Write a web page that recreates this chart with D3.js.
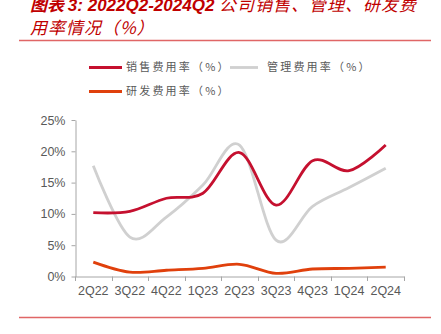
<!DOCTYPE html>
<html>
<head>
<meta charset="utf-8">
<script src="https://cdn.jsdelivr.net/npm/d3@7"></script>
<style>
  html, body { margin: 0; padding: 0; background: #fff; }
  svg { display: block; }
</style>
</head>
<body>
<svg id="chart" width="441" height="334"></svg>
<script>
// Quarters on the x axis
const quarters = ["2Q22", "3Q22", "4Q22", "1Q23", "2Q23", "3Q23", "4Q23", "1Q24", "2Q24"];
// Expense ratios, in %
const sellingRate = [10.2, 10.4, 12.5, 13.3, 19.8, 11.4, 18.5, 16.9, 21.0];
const adminRate   = [17.7, 6.3, 9.5, 14.6, 21.0, 5.8, 11.2, 14.2, 17.3];
const rndRate     = [2.3, 0.7, 1.0, 1.3, 1.95, 0.5, 1.2, 1.3, 1.5];
// Y axis ticks
const yTicks = [0, 5, 10, 15, 20, 25];

const seriesNames = ["销售费用率（%）", "管理费用率（%）", "研发费用率（%）"];
const seriesColors = ["#c5102f", "#d0d0d0", "#e0400c"];
const seriesData = [sellingRate, adminRate, rndRate];

const svg = d3.select("#chart");
const cjk = "'Noto Sans CJK SC', 'Noto Sans', sans-serif";
const latin = "'Liberation Sans', Arial, sans-serif";

// Title (two lines, italic, dark red)
const titleColor = "#c00000";
const title = svg.append("text")
  .attr("font-family", cjk)
  .attr("font-style", "italic")
  .attr("font-size", 17)
  .attr("fill", titleColor);
const l1 = title.append("tspan").attr("x", 30).attr("y", 11);
l1.append("tspan").attr("font-weight", "bold").text("图表 ");
l1.append("tspan").attr("font-weight", "bold").attr("font-family", latin).text("3: 2022Q2-2024Q2 ");
l1.append("tspan").attr("letter-spacing", 1).text("公司销售、管理、研发费");
title.append("tspan").attr("x", 30).attr("y", 34).attr("letter-spacing", 1).text("用率情况（%）");

// Rules above and below the chart
svg.append("line").attr("x1", 19).attr("x2", 431).attr("y1", 40.5).attr("y2", 40.5)
  .attr("stroke", "#e06666").attr("stroke-width", 1.5);
svg.append("line").attr("x1", 19).attr("x2", 431).attr("y1", 317.5).attr("y2", 317.5)
  .attr("stroke", "#e06666").attr("stroke-width", 1.5);

// Scales
const x = d3.scaleBand().domain(quarters).range([75, 404]);
const y = d3.scaleLinear().domain([0, 25]).range([276.5, 120]);
const cx = d => x(d) + x.bandwidth() / 2;

const axisColor = "#a6a6a6";
const labelColor = "#595959";

// Y axis
const yAxis = svg.append("g").attr("transform", "translate(75.5,0)")
  .call(d3.axisLeft(y).tickValues(yTicks).tickSize(4).tickSizeOuter(0).tickFormat(d => d + "%"));
yAxis.select(".domain").attr("stroke", axisColor);
yAxis.selectAll(".tick line").attr("stroke", axisColor);
yAxis.selectAll(".tick text").attr("fill", labelColor).attr("font-family", latin)
  .attr("font-size", 12.5).attr("x", -10);

// X axis with ticks on category boundaries
const xAxis = svg.append("g").attr("transform", "translate(0,276.5)")
  .call(d3.axisBottom(x).tickSize(0).tickSizeOuter(0));
xAxis.select(".domain").attr("stroke", axisColor);
xAxis.selectAll(".tick text").attr("fill", labelColor).attr("font-family", latin)
  .attr("font-size", 12.5).attr("dy", "0.71em").attr("y", 10);
const bounds = quarters.map(q => x(q)).concat([x.range()[1]]);
svg.append("g").selectAll("line").data(bounds).join("line")
  .attr("x1", d => Math.round(d) + 0.5).attr("x2", d => Math.round(d) + 0.5)
  .attr("y1", 276.5).attr("y2", 281)
  .attr("stroke", axisColor);

// Smoothed lines
const line = d3.line()
  .x((d, i) => cx(quarters[i]))
  .y(d => y(d))
  .curve(d3.curveCardinal.tension(0));

// draw grey first so red sits on top
[1, 0, 2].forEach(k => {
  svg.append("path")
    .attr("d", line(seriesData[k]))
    .attr("fill", "none")
    .attr("stroke", seriesColors[k])
    .attr("stroke-width", 2.8)
    .attr("stroke-linejoin", "round");
});

// Legend
const legendItems = [
  { k: 0, x: 89, y: 67.5 },
  { k: 1, x: 230, y: 67.5 },
  { k: 2, x: 89, y: 91.5 }
];
const legend = svg.append("g");
legendItems.forEach(it => {
  const w = it.k === 1 ? 28 : 33;
  legend.append("line")
    .attr("x1", it.x).attr("x2", it.x + w)
    .attr("y1", it.y).attr("y2", it.y)
    .attr("stroke", seriesColors[it.k]).attr("stroke-width", 2.8);
  legend.append("text")
    .attr("x", it.x + w + (it.k === 1 ? 9 : 4)).attr("y", it.y)
    .attr("dy", "0.35em")
    .attr("font-family", cjk).attr("font-size", 11)
    .attr("letter-spacing", 2.2)
    .attr("fill", labelColor)
    .text(seriesNames[it.k]);
});
</script>
</body>
</html>
